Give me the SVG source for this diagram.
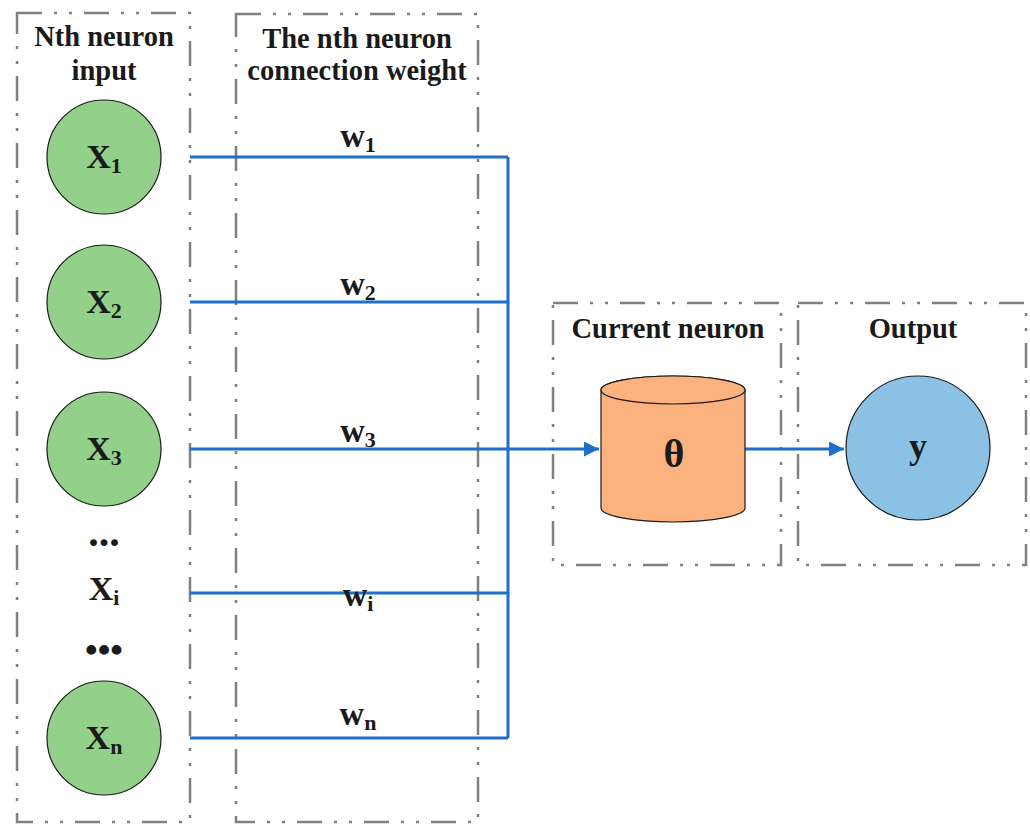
<svg xmlns="http://www.w3.org/2000/svg" width="1030" height="825" viewBox="0 0 1030 825">
<style>
.box{fill:none;stroke:#808080;stroke-width:2.5;stroke-dasharray:25 12 3 12 3 12}
.t{font-family:"Liberation Serif","Times New Roman",serif;font-weight:bold;fill:#1a1a1a;text-anchor:middle}
.title{font-size:28.5px}
.big{font-size:34px}
.sub{font-size:22px}
.in{fill:#93d18a;stroke:#1a1a1a;stroke-width:1.2}
.wire{fill:none;stroke:#1f6fc8;stroke-width:3}
</style>
<defs>
<marker id="arr" viewBox="0 0 10 10" refX="10" refY="5" markerWidth="5" markerHeight="5" markerUnits="strokeWidth" orient="auto">
<path d="M0,0 L10,5 L0,10 z" fill="#1f6fc8"/>
</marker>
</defs>
<g id="box-input"><rect class="box" x="17" y="13" width="173" height="809"/>
<text class="t title" x="104" y="46">Nth neuron</text>
<text class="t title" x="104" y="80">input</text></g>
<g id="box-weight"><rect class="box" x="236" y="14" width="242" height="808"/>
<text class="t title" x="357" y="48">The nth neuron</text>
<text class="t title" x="357" y="80">connection weight</text></g>
<g id="box-current"><rect class="box" x="553" y="303" width="228" height="262"/>
<text class="t title" x="668" y="338">Current neuron</text></g>
<g id="box-output"><rect class="box" x="798" y="303" width="228" height="262"/>
<text class="t title" x="913" y="338">Output</text></g>
<g id="connectors">
<path class="wire" d="M190,157 H508 M190,302 H508 M190,593 H508 M190,738 H508 M508,157 V738"/>
<path class="wire" d="M190,449 H599" marker-end="url(#arr)"/>
<path class="wire" d="M745,449 H844" marker-end="url(#arr)"/>
<text class="t big" x="358" y="147">w<tspan class="sub" dy="5">1</tspan></text>
<text class="t big" x="358" y="295">w<tspan class="sub" dy="5">2</tspan></text>
<text class="t big" x="358" y="442">w<tspan class="sub" dy="5">3</tspan></text>
<text class="t big" x="358" y="606">w<tspan class="sub" dy="5">i</tspan></text>
<text class="t big" x="358" y="725">w<tspan class="sub" dy="5">n</tspan></text>
</g>
<g id="x1"><circle class="in" cx="104" cy="157" r="57"/><text class="t big" x="104" y="168">X<tspan class="sub" dy="5">1</tspan></text></g>
<g id="x2"><circle class="in" cx="104" cy="302" r="57"/><text class="t big" x="104" y="313">X<tspan class="sub" dy="5">2</tspan></text></g>
<g id="x3"><circle class="in" cx="104" cy="449" r="57"/><text class="t big" x="104" y="460">X<tspan class="sub" dy="5">3</tspan></text></g>
<g id="dots1"><text class="t" style="font-size:42px" x="104" y="546">...</text></g>
<g id="xi"><text class="t big" x="104" y="600">X<tspan class="sub" dy="5">i</tspan></text></g>
<g id="dots2"><text class="t" style="font-size:36px" x="104" y="662">•••</text></g>
<g id="xn"><circle class="in" cx="104" cy="738" r="57"/><text class="t big" x="104" y="749">X<tspan class="sub" dy="5">n</tspan></text></g>
<g id="theta">
<path d="M601,390 V508 A72,14 0 0 0 745,508 V390 A72,14 0 0 0 601,390 Z" fill="#fbb27f" stroke="#1a1a1a" stroke-width="1.2"/>
<ellipse cx="673" cy="390" rx="72" ry="14" fill="#fbb27f" stroke="#1a1a1a" stroke-width="1.2"/>
<text class="t" style="font-size:40px" x="674" y="467">θ</text>
</g>
<g id="y"><circle cx="918" cy="448" r="72" fill="#8bc1e4" stroke="#1a1a1a" stroke-width="1.2"/>
<text class="t" style="font-size:36px" x="918" y="458">y</text></g>
</svg>
